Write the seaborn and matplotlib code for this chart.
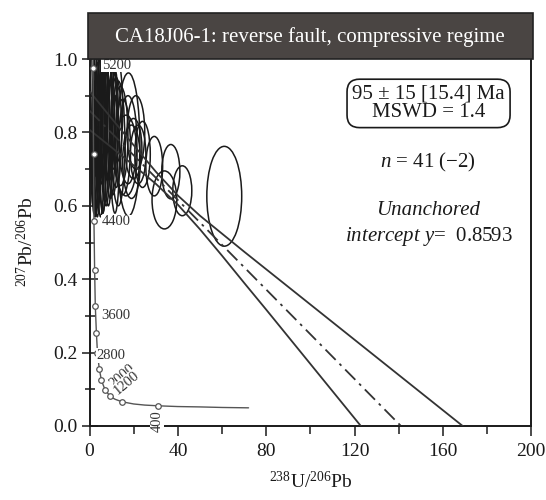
import numpy as np
import pandas as pd
import seaborn as sns
import matplotlib
matplotlib.use("Agg")
import matplotlib.pyplot as plt
from matplotlib.patches import Ellipse, Rectangle

# ---------------- data ----------------
# concordia markers (ages in Ma)
conc_age = [400, 800, 1200, 1600, 2000, 2400, 2800, 3200, 3600, 4000, 4400, 4800, 5200]
conc_x = [31.1, 14.7, 9.3, 7.0, 5.4, 4.4, 3.6, 3.1, 2.6, 2.3, 2.0, 1.8, 1.6]
conc_y = [0.055, 0.066, 0.081, 0.099, 0.124, 0.156, 0.198, 0.254, 0.328, 0.426, 0.558, 0.740, 0.975]
# concordia curve trace (young end to old end)
curve_x = [72, 60, 50, 40, 31.1, 25, 20, 14.7, 11.5, 9.3, 7.0, 5.4, 4.4, 3.6, 3.1, 2.6, 2.3, 2.0, 1.8, 1.6, 1.5]
curve_y = [0.0495, 0.0505, 0.052, 0.053, 0.055, 0.057, 0.060, 0.066, 0.073, 0.081, 0.099, 0.124, 0.156, 0.198, 0.254, 0.328, 0.426, 0.558, 0.740, 0.975, 1.06]
conc_labels = ["5200", "4400", "3600", "2800", "2000", "1200", "400"]
label_x = [5.6, 5.6, 5.4, 3.2, 15.0, 17.0, 30.5]
label_y = [0.983, 0.556, 0.300, 0.192, 0.137, 0.118, 0.012]
label_rot = [0, 0, 0, 0, 40, 40, 90]

# error ellipses: centre x, centre y, full width (x units), full height (y units)
ell_x = [1.5, 2.5, 3.0, 3.5, 4.0, 4.5, 5.0, 5.5, 6.0, 6.5, 7.0, 7.5, 8.0, 8.5, 9.0, 9.5,
         10.0, 10.5, 11.0, 12.0, 12.5, 2.0, 3.0, 6.0, 11.5, 13.0,
         14.0, 15.0, 16.5, 17.4, 17.6, 19.9, 19.0, 21.0, 22.0, 24.0,
         29.3, 33.9, 36.8, 42.0, 61.0]
ell_y = [0.85, 0.80, 0.88, 0.78, 0.83, 0.90, 0.79, 0.86, 0.80, 0.88, 0.82, 0.78, 0.86, 0.80, 0.84, 0.78,
         0.87, 0.80, 0.84, 0.80, 0.86, 0.76, 0.74, 0.76, 0.74, 0.77,
         0.79, 0.76, 0.737, 0.78, 0.767, 0.756, 0.72, 0.80, 0.74, 0.74,
         0.708, 0.616, 0.693, 0.641, 0.626]
ell_w = [2.0, 2.6, 2.4, 3.0, 2.8, 3.0, 3.4, 3.2, 3.6, 3.4, 4.0, 3.6, 4.2, 3.8, 4.6, 4.0,
         4.4, 4.8, 4.2, 5.0, 5.0, 2.2, 2.4, 2.6, 4.0, 6.0,
         6.8, 7.0, 10.0, 8.0, 10.4, 7.6, 8.0, 8.0, 7.0, 7.0,
         7.6, 11.2, 8.2, 8.6, 15.8]
ell_h = [0.50, 0.46, 0.40, 0.42, 0.44, 0.34, 0.44, 0.40, 0.44, 0.36, 0.42, 0.36, 0.38, 0.40, 0.34, 0.32,
         0.30, 0.34, 0.28, 0.30, 0.28, 0.36, 0.32, 0.36, 0.32, 0.34,
         0.27, 0.26, 0.22, 0.24, 0.39, 0.164, 0.20, 0.20, 0.16, 0.18,
         0.162, 0.158, 0.148, 0.136, 0.272]

# regression line and confidence envelope
reg_x = [0, 141]
reg_y = [0.8593, 0.0]
env_x = [0, 10, 20, 30, 40, 50, 60, 70, 80, 90, 100, 110, 120, 130, 140, 150, 160, 170, 180]
env_upper = [0.912, 0.838, 0.765, 0.693, 0.628, 0.573, 0.524, 0.475, 0.427, 0.379, 0.331,
             0.283, 0.235, 0.187, 0.139, 0.091, 0.043, -0.005, -0.053]
env_lower = [0.807, 0.759, 0.710, 0.660, 0.603, 0.536, 0.464, 0.390, 0.317, 0.243, 0.169,
             0.095, 0.021, -0.053, -0.127, -0.20, -0.275, -0.349, -0.42]

title = "CA18J06-1: reverse fault, compressive regime"
x_ticks = [0, 40, 80, 120, 160, 200]
y_ticks = [0.0, 0.2, 0.4, 0.6, 0.8, 1.0]

# ---------------- plot ----------------
sns.set_theme(style="white")
plt.rcParams["font.family"] = ["Liberation Serif", "DejaVu Serif"]
plt.rcParams["mathtext.fontset"] = "custom"
plt.rcParams["mathtext.rm"] = "Liberation Serif"
plt.rcParams["mathtext.it"] = "Liberation Serif:italic"

fig = plt.figure(figsize=(5.46, 5.0), dpi=100)
ax = fig.add_axes([0.164, 0.148, 0.809, 0.734])

ink = "#1a1a1a"

# ellipses
for cx, cy, w, h in zip(ell_x, ell_y, ell_w, ell_h):
    ax.add_patch(Ellipse((cx, cy), w, h, angle=0, facecolor="none",
                         edgecolor=ink, lw=1.1, zorder=3))

# envelope and regression
env_df = pd.DataFrame({"x": env_x, "up": env_upper, "lo": env_lower})
sns.lineplot(data=env_df, x="x", y="up", ax=ax, color="#333333", lw=1.3, zorder=4)
sns.lineplot(data=env_df, x="x", y="lo", ax=ax, color="#333333", lw=1.3, zorder=4)
reg_df = pd.DataFrame({"x": reg_x, "y": reg_y})
sns.lineplot(data=reg_df, x="x", y="y", ax=ax, color="#333333", lw=1.3, zorder=4)
ax.lines[-1].set_dashes([8, 3, 1.5, 3])

# concordia
curve_df = pd.DataFrame({"x": curve_x, "y": curve_y})
sns.lineplot(data=curve_df, x="x", y="y", ax=ax, color="#555555", lw=1.0,
             sort=False, zorder=5)
conc_df = pd.DataFrame({"x": conc_x, "y": conc_y})
sns.scatterplot(data=conc_df, x="x", y="y", ax=ax, s=16, facecolor="white",
                edgecolor="#555555", linewidth=0.9, zorder=6)
for t, lx, ly, r in zip(conc_labels, label_x, label_y, label_rot):
    ax.text(lx, ly, t, fontsize=10.5, rotation=r, ha="left" if r == 0 else "center",
            va="center", color="#333333", zorder=7,
            bbox=dict(facecolor="white", edgecolor="none", pad=0.5))

ax.set_xlim(0, 200)
ax.set_ylim(0, 1.0)
ax.set_xticks(x_ticks)
ax.set_xticks(np.arange(0, 201, 20), minor=True)
ax.set_yticks(y_ticks)
ax.set_yticks(np.arange(0, 1.01, 0.1), minor=True)
ax.set_xticklabels([str(v) for v in x_ticks])
ax.set_yticklabels([f"{v:.1f}" for v in y_ticks])
ax.tick_params(axis="x", which="major", direction="out", length=7, width=1.1,
               labelsize=14, colors=ink, pad=5)
ax.tick_params(axis="x", which="minor", direction="out", length=6, width=1.1, colors=ink)
ax.tick_params(axis="y", which="major", direction="inout", length=11, width=1.1,
               labelsize=14, colors=ink, pad=3)
ax.tick_params(axis="y", which="minor", direction="inout", length=7, width=1.1, colors=ink)
ax.tick_params(bottom=True, left=True, which="both")
for s in ["left", "bottom", "right"]:
    ax.spines[s].set_visible(True)
    ax.spines[s].set_color(ink)
    ax.spines[s].set_linewidth(1.4)
ax.spines["top"].set_visible(False)

ax.set_xlabel(r"$^{238}$U/$^{206}$Pb", fontsize=14, color=ink, labelpad=8)
ax.set_ylabel(r"$^{207}$Pb/$^{206}$Pb", fontsize=14, color=ink, labelpad=12)

# annotation box
fs = 15
ax.text(153.5, 0.879, "95 ± 15 [15.4] Ma\nMSWD = 1.4", fontsize=fs, ha="center",
        va="center", color=ink, linespacing=1.0, zorder=8,
        bbox=dict(boxstyle="round,pad=0.25,rounding_size=0.6", facecolor="white",
                  edgecolor=ink, lw=1.2))
ax.text(153.3, 0.717, r"$n$ = 41 (−2)", fontsize=fs, ha="center", va="center", color=ink)
ax.text(153.5, 0.586, "Unanchored", fontsize=fs, ha="center", va="center",
        color=ink, style="italic")
ax.text(153.8, 0.515, r"$\it{intercept\ y}$=  0.8593", fontsize=fs, ha="center",
        va="center", color=ink)

# title bar
fig.patches.append(Rectangle((0.162, 0.882), 0.815, 0.092, transform=fig.transFigure,
                             facecolor="#4a4543", edgecolor="#222222", lw=1.2))
fig.text(0.568, 0.926, title, color="white", fontsize=15, ha="center", va="center")

fig.savefig("out.png", dpi=100)
